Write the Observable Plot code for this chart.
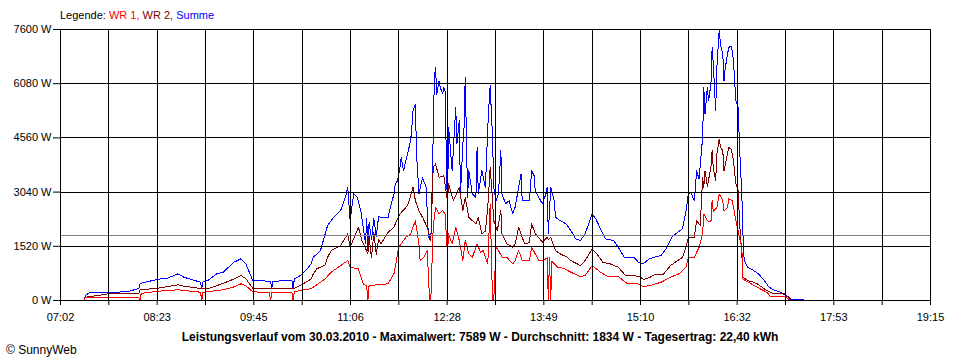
<!DOCTYPE html>
<html>
<head>
<meta charset="utf-8">
<script src="https://cdn.jsdelivr.net/npm/d3@7"></script>
<script src="https://cdn.jsdelivr.net/npm/@observablehq/plot@0.6"></script>
<style>
  html, body { margin: 0; padding: 0; background: #fff; }
  body { width: 960px; height: 360px; overflow: hidden; font-family: "Liberation Sans", Arial, sans-serif; }
  #legend { height: 22px; box-sizing: border-box; padding-top: 9px; padding-left: 60px; font-size: 11px; line-height: 13px; color: #000; white-space: nowrap; }
  #chart svg { display: block; }
  #title { margin-top: 4px; text-align: center; font-weight: bold; font-size: 12px; line-height: 14px; color: #000; white-space: nowrap; }
  #copy { padding-left: 6px; font-size: 12px; line-height: 12px; color: #000; }
</style>
</head>
<body>
<div id="legend"></div>
<div id="chart"></div>
<div id="title"></div>
<div id="copy"></div>
<script>
// ---- data ----
const xLabels = ["07:02","08:23","09:45","11:06","12:28","13:49","15:10","16:32","17:53","19:15"];
const yTicks = [0, 1520, 3040, 4560, 6080, 7600];
const avgW = 1834;
const seriesNames = ["WR 1", "WR 2", "Summe"];
const seriesColors = ["#ff0000", "#800000", "#0000ff"];
const titleText = "Leistungsverlauf vom 30.03.2010 - Maximalwert: 7589 W - Durchschnitt: 1834 W - Tagesertrag: 22,40 kWh";
const copyText = "\u00A9 SunnyWeb";

const sumT = ["07:16","07:22","07:23","07:27","07:42","07:59","08:08","08:09","08:24","08:32","08:41","08:46","09:00","09:01","09:02","09:06","09:14","09:19","09:28","09:34","09:38","09:44","09:59","10:00","10:01","10:17","10:18","10:19","10:24","10:30","10:33","10:35","10:41","10:45","10:47","10:52","10:58","11:02","11:04","11:05","11:06","11:09","11:12","11:15","11:17","11:19","11:20","11:21","11:22","11:24","11:26","11:28","11:30","11:32","11:38","11:40","11:43","11:44","11:46","11:48","11:49","11:51","11:57","11:58","11:59","12:01","12:02","12:04","12:07","12:10","12:12","12:14","12:15","12:17","12:18","12:19","12:21","12:22","12:24","12:25","12:26","12:28","12:29","12:32","12:35","12:36","12:38","12:39","12:41","12:42","12:43","12:45","12:46","12:49","12:52","12:53","12:54","12:57","13:00","13:02","13:03","13:04","13:06","13:07","13:09","13:11","13:13","13:14","13:17","13:20","13:23","13:25","13:28","13:30","13:31","13:37","13:39","13:41","13:42","13:45","13:48","13:51","13:52","13:53","13:55","13:58","13:59","14:03","14:08","14:12","14:16","14:20","14:24","14:30","14:33","14:37","14:41","14:48","14:52","14:57","15:05","15:09","15:13","15:18","15:22","15:28","15:33","15:37","15:42","15:46","15:49","15:51","15:53","15:56","15:58","16:00","16:03","16:04","16:05","16:07","16:08","16:10","16:11","16:12","16:14","16:15","16:17","16:18","16:20","16:21","16:22","16:24","16:25","16:27","16:28","16:29","16:31","16:33","16:34","16:36","16:37","16:38","16:41","16:46","16:50","16:55","16:59","17:03","17:09","17:13","17:17","17:34"];
const sumW = [0,0,140,230,216,252,336,476,596,624,748,652,512,336,520,560,756,792,1072,1168,1036,560,540,336,540,560,336,600,700,896,1028,1212,1400,1868,2100,2332,2520,2892,3172,2716,2240,2996,2892,2520,2052,1600,2300,1400,2200,1700,2300,1800,2350,2332,2332,2612,2996,3268,3360,3732,4012,3640,4480,4852,5320,5508,4108,2988,3452,3172,1772,1680,3000,6252,6532,5788,6160,5972,5796,5972,5880,2520,4852,3640,5412,4388,5040,2988,4388,4852,6252,2892,3640,2988,2892,4292,2988,3640,3172,4852,5508,6020,4572,3172,2800,2988,4200,2988,2708,2800,2428,2612,3172,3548,2800,2800,3640,3500,3080,2892,2708,2988,3172,1868,3172,2800,2332,2240,2148,1960,1728,1680,1868,2428,2288,2008,1728,1680,1492,1212,1212,1072,1028,1168,1212,1260,1492,1772,1912,2008,2520,2988,3032,2800,3640,3400,4572,5972,5228,5972,5600,6068,7092,6628,5320,6532,7589,7188,6908,6160,6500,6908,7092,7140,7000,6720,5600,5412,4388,2988,1868,1120,932,840,748,560,372,300,232,140,40,0];

const wr2T = ["07:16","07:22","07:23","07:35","07:42","08:08","08:09","08:24","08:41","08:46","09:00","09:06","09:14","09:19","09:28","09:34","09:38","09:44","09:59","10:18","10:24","10:33","10:35","10:38","10:45","10:47","10:50","10:58","11:04","11:06","11:13","11:16","11:21","11:22","11:24","11:26","11:28","11:30","11:32","11:38","11:43","11:44","11:48","11:53","11:55","11:59","12:01","12:04","12:07","12:11","12:14","12:16","12:18","12:21","12:25","12:28","12:29","12:33","12:38","12:41","12:43","12:46","12:52","12:54","12:57","13:00","13:02","13:04","13:06","13:07","13:10","13:13","13:14","13:18","13:23","13:25","13:28","13:30","13:33","13:37","13:39","13:42","13:45","13:48","13:52","13:53","13:55","13:59","14:03","14:09","14:12","14:20","14:24","14:30","14:34","14:39","14:45","14:52","14:58","15:05","15:11","15:13","15:18","15:23","15:30","15:36","15:42","15:46","15:49","15:51","15:56","15:58","16:01","16:03","16:04","16:05","16:07","16:10","16:11","16:12","16:14","16:15","16:17","16:18","16:20","16:21","16:22","16:24","16:25","16:27","16:28","16:29","16:31","16:33","16:34","16:36","16:37","16:41","16:46","16:49","16:55","16:57","17:03","17:12","17:16","17:19"];
const wr2W = [0,0,90,150,188,200,300,344,440,400,336,330,420,480,600,700,620,340,328,330,420,600,748,888,1000,1212,1400,1540,1868,1492,2052,1680,1308,1800,1200,1900,1300,1700,1588,1912,2052,2148,2428,2612,2708,3172,2800,2520,2332,2052,1680,3732,3828,3452,3500,2800,3268,2800,3172,2520,2892,2332,2148,2332,1868,1950,2612,3732,2800,2240,1960,2520,1868,1588,1492,1588,2052,1868,1588,1620,2148,1868,1760,1632,1772,1700,1772,1400,1308,1212,1120,980,1120,1448,1300,1072,1028,932,700,700,652,588,640,728,740,980,1120,1212,1492,1772,1772,2240,2100,3452,3172,3640,3200,3732,4200,3700,3360,4108,4528,4300,4200,3640,3800,4108,4292,4250,4108,3920,3268,3080,2240,1308,652,560,512,468,328,280,188,188,80,0];

const wr1T = ["07:16","07:22","07:23","08:08","08:09","08:10","08:18","08:24","08:41","09:00","09:01","09:02","09:19","09:28","09:34","09:38","09:44","09:58","09:59","10:00","10:17","10:18","10:19","10:24","10:33","10:35","10:45","10:50","11:04","11:06","11:13","11:17","11:20","11:21","11:22","11:38","11:43","11:45","11:47","11:53","11:57","12:01","12:04","12:05","12:08","12:11","12:13","12:14","12:16","12:18","12:21","12:24","12:26","12:28","12:29","12:32","12:35","12:38","12:41","12:43","12:46","12:49","12:53","12:56","12:58","13:02","13:04","13:06","13:07","13:09","13:11","13:14","13:18","13:23","13:25","13:28","13:31","13:37","13:39","13:42","13:45","13:49","13:52","13:53","13:54","13:55","13:56","13:58","14:01","14:06","14:12","14:20","14:24","14:30","14:37","14:43","14:52","14:59","15:08","15:13","15:19","15:28","15:36","15:43","15:49","15:51","15:56","16:00","16:03","16:04","16:07","16:10","16:11","16:12","16:15","16:17","16:20","16:21","16:24","16:25","16:28","16:29","16:31","16:33","16:34","16:36","16:37","16:39","16:49","16:57","17:00","17:12","17:17"];
const wr1W = [0,0,92,92,0,200,232,260,300,232,0,232,300,380,468,420,240,232,0,232,232,0,240,280,330,372,608,792,1120,932,888,468,400,0,420,468,756,1120,1492,1772,1868,2240,1588,1120,1200,1400,0,0,2052,2612,2428,2520,2428,1308,1868,1588,2052,1680,1120,1680,1308,1212,1588,1350,1400,1028,2708,0,0,1492,1400,1212,1212,1028,1120,1400,1120,1120,1492,1308,1120,1120,1200,0,1212,0,1100,1028,932,900,792,672,700,980,792,672,672,484,468,392,420,512,652,748,932,1212,1212,1492,1868,2428,2240,2200,2800,2500,2600,2988,2800,2520,2600,2848,2800,2612,2240,1960,1772,1500,608,560,372,232,120,120,0];

// ---- build ----
const parse = d3.utcParse("%H:%M");
const toRows = (ts, ws) => ts.map((t, i) => ({time: parse(t), value: ws[i]}));
const sumData = toRows(sumT, sumW);
const wr2Data = toRows(wr2T, wr2W);
const wr1Data = toRows(wr1T, wr1W);

const xStart = parse(xLabels[0]);
const xEnd = parse(xLabels[xLabels.length - 1]);
const nGrid = (xLabels.length - 1) * 2;
const gridDates = d3.range(nGrid + 1).map(i => new Date(+xStart + (xEnd - xStart) * i / nGrid));

const chart = Plot.plot({
  width: 960,
  height: 304,
  marginLeft: 60,
  marginRight: 30,
  marginTop: 7,
  marginBottom: 26,
  style: {fontFamily: "'Liberation Sans', Arial, sans-serif", fontSize: "11px", color: "#000", background: "#fff"},
  x: {
    type: "utc",
    domain: [xStart, xEnd],
    ticks: gridDates,
    tickFormat: d => { const i = gridDates.findIndex(g => +g === +d); return i % 2 === 0 ? xLabels[i / 2] : ""; },
    tickSize: 5,
    tickPadding: 8,
    label: null
  },
  y: {
    domain: [0, 7600],
    ticks: yTicks,
    tickFormat: d => `${d} W`,
    tickSize: 7,
    tickPadding: 2,
    label: null
  },
  marks: [
    Plot.line(sumData, {x: "time", y: "value", stroke: seriesColors[2], strokeWidth: 1, shapeRendering: "crispEdges"}),
    Plot.line(wr2Data, {x: "time", y: "value", stroke: seriesColors[1], strokeWidth: 1, shapeRendering: "crispEdges"}),
    Plot.line(wr1Data, {x: "time", y: "value", stroke: seriesColors[0], strokeWidth: 1, shapeRendering: "crispEdges"}),
    Plot.ruleY([avgW], {stroke: "#808080", strokeWidth: 1, shapeRendering: "crispEdges"}),
    Plot.ruleX(gridDates, {stroke: "#000", strokeWidth: 1, shapeRendering: "crispEdges"}),
    Plot.ruleY(yTicks, {stroke: "#000", strokeWidth: 1, shapeRendering: "crispEdges"})
  ]
});
document.getElementById("chart").appendChild(chart);

// legend
const legend = document.getElementById("legend");
const lbl = document.createElement("span");
lbl.textContent = "Legende: ";
legend.appendChild(lbl);
seriesNames.forEach((n, i) => {
  const s = document.createElement("span");
  s.style.color = seriesColors[i];
  s.textContent = n + (i < seriesNames.length - 1 ? ", " : "");
  legend.appendChild(s);
});
document.getElementById("title").textContent = titleText;
document.getElementById("copy").textContent = copyText;
</script>
</body>
</html>
